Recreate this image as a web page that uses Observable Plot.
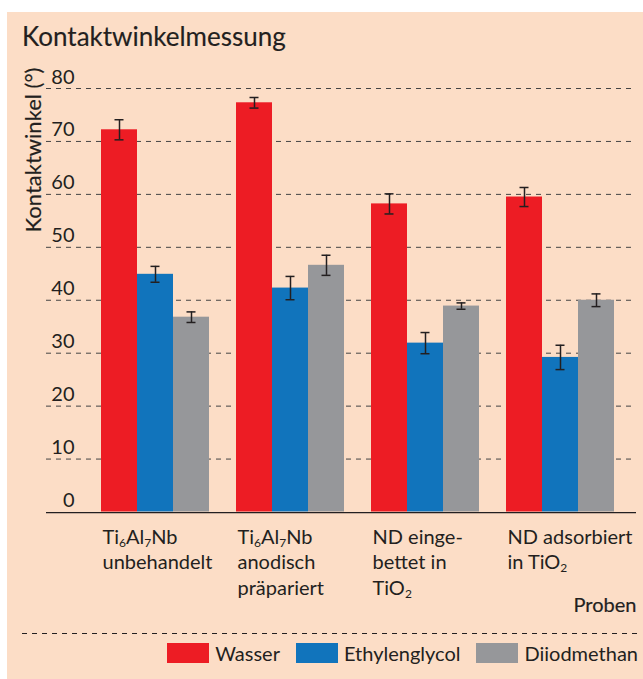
<!DOCTYPE html>
<html><head><meta charset="utf-8">
<script src="https://cdn.jsdelivr.net/npm/d3@7"></script>
<script src="https://cdn.jsdelivr.net/npm/@observablehq/plot@0.6"></script>
<style>
html,body{margin:0;padding:0;background:#fff;width:643px;height:679px;overflow:hidden;font-family:Lato,sans-serif;color:#231F20}
#bg{position:absolute;left:7px;top:12px;width:636px;height:667px;background:#FCDDC6}
#title{position:absolute;left:22px;top:23px;font-size:26px;line-height:26px;-webkit-text-stroke:0.15px #231F20;white-space:nowrap}
#chart{position:absolute;left:0;top:60px;width:643px;height:560px}
#chart svg{position:absolute;left:0;top:0}
#sep{position:absolute;left:22px;top:633px;width:615px;height:1px;background-image:linear-gradient(to right,#231F20 50%,transparent 50%);background-size:10px 1px}
#legend{position:absolute;right:5px;top:641px;display:flex;align-items:center;font-size:20px;line-height:24px}
.item{display:flex;align-items:center;margin-left:16px}
.sw{width:42px;height:20px;margin-right:6px}
</style></head><body>
<div id="bg"></div><div id="title"></div><div id="chart"></div><div id="sep"></div><div id="legend"></div>
<script>
const groups = ["Ti6Al7Nb unbehandelt", "Ti6Al7Nb anodisch präpariert", "ND eingebettet in TiO2", "ND adsorbiert in TiO2"];
const groupLabels = ["Ti_6Al_7Nb\nunbehandelt", "Ti_6Al_7Nb\nanodisch\npräpariert", "ND einge-\nbettet in\nTiO_2", "ND adsorbiert\nin TiO_2"];
const series = ["Wasser", "Ethylenglycol", "Diiodmethan"];
const colors = ["#ED1C24", "#1174BC", "#96979A"];
const wasser = [72.2, 77.3, 58.2, 59.5];
const wasserErr = [1.9, 1.0, 1.9, 1.8];
const ethylenglycol = [44.9, 42.3, 31.9, 29.2];
const ethylenglycolErr = [1.5, 2.2, 2.0, 2.3];
const diiodmethan = [36.8, 46.6, 38.9, 40.0];
const diiodmethanErr = [1.0, 1.9, 0.6, 1.2];
const yTicks = [0, 10, 20, 30, 40, 50, 60, 70, 80];
const yLabel = "Kontaktwinkel (°)";
const xLabel = "Proben";
const titleText = "Kontaktwinkelmessung";

const seriesValues = [wasser, ethylenglycol, diiodmethan];
const seriesErrs = [wasserErr, ethylenglycolErr, diiodmethanErr];
const data = [];
groups.forEach((g, gi) => series.forEach((s, si) => {
  data.push({group: g, series: s, value: seriesValues[si][gi], err: seriesErrs[si][gi]});
}));

document.getElementById("title").textContent = titleText;
const ink = "#231F20";
const common = {
  width: 643, height: 560,
  marginTop: 28, marginBottom: 108.5, marginLeft: 46, marginRight: 7,
  style: {fontFamily: "Lato, sans-serif", fontSize: "20px", color: ink, background: "transparent", overflow: "visible"},
  y: {domain: [0, 80], axis: null}
};

// background layer: grid, baseline, y axis texts, x title
const back = Plot.plot({
  ...common,
  marks: [
    Plot.ruleY(yTicks.filter(t => t > 0), {stroke: "#444", strokeDasharray: "5,5", strokeWidth: 1}),
    Plot.ruleY([0], {stroke: ink, strokeWidth: 1.3, dy: 0.65}),
    Plot.text(yTicks, {y: d => d, text: d => String(d), frameAnchor: "left", textAnchor: "end", lineAnchor: "bottom", dx: 28, dy: -5, fontSize: 20, fill: ink}),
    Plot.text([yLabel], {frameAnchor: "top-left", rotate: -90, textAnchor: "end", lineAnchor: "bottom", text: d => d, dx: -6, dy: -21, fontSize: 22, fill: ink, stroke: ink, strokeWidth: 0.15}),
    Plot.text([xLabel], {text: d => d, frameAnchor: "bottom-right", textAnchor: "end", lineAnchor: "bottom", dy: 100.2, fontSize: 20, fill: ink, stroke: ink, strokeWidth: 0.2})
  ]
});

// foreground layer: grouped bars with error bars, group labels
const front = Plot.plot({
  ...common,
  fx: {domain: groups, axis: null, paddingInner: 0.2, paddingOuter: 0.2723, align: 0.716, label: null},
  x: {domain: series, axis: null, padding: 0},
  color: {domain: series, range: colors},
  marks: [
    Plot.barY(data, {fx: "group", x: "series", y: "value", fill: "series"}),
    Plot.ruleX(data, {fx: "group", x: "series", y1: d => d.value - d.err, y2: d => d.value + d.err, stroke: ink, strokeWidth: 1.5}),
    Plot.tickY(data, {fx: "group", x: "series", y: d => d.value - d.err, insetLeft: 13.5, insetRight: 13.5, stroke: ink, strokeWidth: 1.5}),
    Plot.tickY(data, {fx: "group", x: "series", y: d => d.value + d.err, insetLeft: 13.5, insetRight: 13.5, stroke: ink, strokeWidth: 1.5}),
    Plot.text(groups, {fx: d => d, text: (d, i) => groupLabels[i], frameAnchor: "bottom-left", textAnchor: "start", lineAnchor: "top", lineHeight: 1.28, dx: 1, dy: 13.6, fontSize: 20, fill: ink})
  ]
});

// subscripts
d3.select(front).selectAll("tspan").each(function() {
  const t = this.textContent;
  if (!t.includes("_")) return;
  const parts = t.split(/_(\d)/);
  this.textContent = "";
  let shifted = false;
  parts.forEach((p, k) => {
    if (!p) return;
    const ts = d3.select(this).append("tspan").text(p);
    if (k % 2 === 1) { ts.attr("font-size", "12px").attr("dy", 3); shifted = true; }
    else if (shifted) { ts.attr("dy", -3); shifted = false; }
  });
});
const chart = document.getElementById("chart");
chart.appendChild(back);
chart.appendChild(front);

const legend = d3.select("#legend");
series.forEach((s, i) => {
  const item = legend.append("div").attr("class", "item");
  item.append("div").attr("class", "sw").style("background", colors[i]);
  item.append("span").text(s);
});
</script>
</body></html>
